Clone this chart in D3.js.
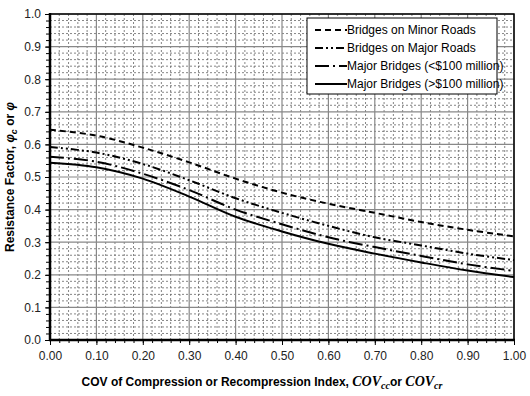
<!DOCTYPE html>
<html>
<head>
<meta charset="utf-8">
<script src="https://cdn.jsdelivr.net/npm/d3@7"></script>
<style>
  body { margin: 0; background: #fff; }
  text { font-family: "Liberation Sans", Arial, sans-serif; }
</style>
</head>
<body>
<div id="chart"></div>
<script>
const xValues = [0, 0.1, 0.2, 0.3, 0.4, 0.5, 0.6, 0.7, 0.8, 0.9, 1.0];
const minorRoads = [0.645, 0.627, 0.590, 0.545, 0.495, 0.452, 0.418, 0.390, 0.362, 0.338, 0.318];
const majorRoads = [0.592, 0.575, 0.540, 0.490, 0.435, 0.390, 0.350, 0.315, 0.290, 0.265, 0.245];
const majorLow   = [0.562, 0.547, 0.510, 0.460, 0.400, 0.355, 0.315, 0.285, 0.258, 0.232, 0.212];
const majorHigh  = [0.544, 0.530, 0.495, 0.440, 0.378, 0.333, 0.295, 0.265, 0.238, 0.213, 0.193];

const seriesLabels = [
  "Bridges on Minor Roads",
  "Bridges on Major Roads",
  "Major Bridges (<$100 million)",
  "Major Bridges (>$100 million)"
];
const xTickLabels = ["0.00","0.10","0.20","0.30","0.40","0.50","0.60","0.70","0.80","0.90","1.00"];
const yTickLabels = ["0.0","0.1","0.2","0.3","0.4","0.5","0.6","0.7","0.8","0.9","1.0"];

const width = 530;
const height = 396;
const margin = { left: 50, right: 16, top: 14, bottom: 56 };

const svg = d3.select("#chart")
  .append("svg")
  .attr("width", width)
  .attr("height", height);

const x = d3.scaleLinear().domain([0, 1]).range([margin.left, width - margin.right]);
const y = d3.scaleLinear().domain([0, 1]).range([height - margin.bottom, margin.top]);

const minorSteps = d3.range(0, 51).map(i => i * 0.02);
const majorSteps = d3.range(0, 11).map(i => i / 10);

// dashed minor grid
const grid = svg.append("g");
grid.selectAll("line.vminor")
  .data(minorSteps.filter((d, i) => i % 5 !== 0))
  .enter().append("line")
  .attr("x1", d => x(d)).attr("x2", d => x(d))
  .attr("y1", y(0)).attr("y2", y(1))
  .attr("stroke", "#666").attr("stroke-width", 0.8)
  .attr("stroke-dasharray", "2,2");
grid.selectAll("line.hminor")
  .data(minorSteps.filter((d, i) => i % 5 !== 0))
  .enter().append("line")
  .attr("y1", d => y(d)).attr("y2", d => y(d))
  .attr("x1", x(0)).attr("x2", x(1))
  .attr("stroke", "#666").attr("stroke-width", 0.8)
  .attr("stroke-dasharray", "2,2");

// solid major grid
grid.selectAll("line.vmajor")
  .data(majorSteps)
  .enter().append("line")
  .attr("x1", d => x(d)).attr("x2", d => x(d))
  .attr("y1", y(0)).attr("y2", y(1))
  .attr("stroke", "#888").attr("stroke-width", 1.2);
grid.selectAll("line.hmajor")
  .data(majorSteps)
  .enter().append("line")
  .attr("y1", d => y(d)).attr("y2", d => y(d))
  .attr("x1", x(0)).attr("x2", x(1))
  .attr("stroke", "#888").attr("stroke-width", 1.2);

// axes
const xAxis = d3.axisBottom(x)
  .tickValues(majorSteps)
  .tickFormat((d, i) => xTickLabels[i])
  .tickSize(5).tickPadding(6);
const xMinorAxis = d3.axisBottom(x).tickValues(minorSteps).tickFormat("").tickSize(3);
const yAxis = d3.axisLeft(y)
  .tickValues(majorSteps)
  .tickFormat((d, i) => yTickLabels[i])
  .tickSize(5).tickPadding(4);
const yMinorAxis = d3.axisLeft(y).tickValues(minorSteps).tickFormat("").tickSize(4);

function styleAxis(g) {
  g.select(".domain").remove();
  g.selectAll(".tick line").attr("stroke", "#000").attr("stroke-width", 1);
  g.selectAll(".tick text")
    .attr("fill", "#222")
    .style("font-size", "12px")
    .style("font-family", "'Liberation Sans', Arial, sans-serif");
}

svg.append("g").attr("transform", `translate(0,${y(0)})`).call(xMinorAxis).call(styleAxis);
svg.append("g").attr("transform", `translate(0,${y(0)})`).call(xAxis).call(styleAxis);
svg.append("g").attr("transform", `translate(${x(0)},0)`).call(yMinorAxis).call(styleAxis);
svg.append("g").attr("transform", `translate(${x(0)},0)`).call(yAxis).call(styleAxis);

// frame
svg.append("rect")
  .attr("x", x(0)).attr("y", y(1))
  .attr("width", x(1) - x(0)).attr("height", y(0) - y(1))
  .attr("fill", "none").attr("stroke", "#000").attr("stroke-width", 1.5);
svg.append("line")
  .attr("x1", x(0)).attr("x2", x(0)).attr("y1", y(1) - 1).attr("y2", y(0) + 1)
  .attr("stroke", "#000").attr("stroke-width", 2.5);
svg.append("line")
  .attr("x1", x(0) - 1).attr("x2", x(1) + 1).attr("y1", y(0)).attr("y2", y(0))
  .attr("stroke", "#000").attr("stroke-width", 2.5);

// curves
const series = [
  { name: seriesLabels[0], values: minorRoads, dash: "6,4" },
  { name: seriesLabels[1], values: majorRoads, dash: "8,3,2,3,2,3" },
  { name: seriesLabels[2], values: majorLow, dash: "14,4,2,4" },
  { name: seriesLabels[3], values: majorHigh, dash: null }
];

const line = d3.line()
  .x((d, i) => x(xValues[i]))
  .y(d => y(d))
  .curve(d3.curveCatmullRom.alpha(0.5));

svg.append("g").selectAll("path.curve")
  .data(series)
  .enter().append("path")
  .attr("class", "curve")
  .attr("d", d => line(d.values))
  .attr("fill", "none")
  .attr("stroke", "#000")
  .attr("stroke-width", 2)
  .attr("stroke-dasharray", d => d.dash);

// legend
const legend = svg.append("g").attr("transform", "translate(307,18)");
legend.append("rect")
  .attr("width", 190).attr("height", 76)
  .attr("fill", "#fff").attr("stroke", "#000").attr("stroke-width", 1);
series.forEach((s, i) => {
  const g = legend.append("g").attr("transform", `translate(0,${12 + i * 18})`);
  g.append("line")
    .attr("x1", 8).attr("x2", 40).attr("y1", 0).attr("y2", 0)
    .attr("stroke", "#000").attr("stroke-width", 2)
    .attr("stroke-dasharray", s.dash);
  g.append("text")
    .attr("x", 40).attr("y", 4)
    .style("font-size", "12px")
    .attr("fill", "#000")
    .text(s.name);
});

// axis titles
const yTitle = svg.append("text")
  .attr("transform", `translate(14,${(y(0) + y(1)) / 2}) rotate(-90)`)
  .attr("text-anchor", "middle")
  .style("font-size", "12px")
  .style("font-weight", "bold");
yTitle.append("tspan").text("Resistance Factor, ");
yTitle.append("tspan").style("font-style", "italic").text("φ");
yTitle.append("tspan").attr("dy", 3).style("font-size", "9px").style("font-style", "italic").text("c");
yTitle.append("tspan").attr("dy", -3).text(" or ");
yTitle.append("tspan").style("font-style", "italic").text("φ");

const xTitle = svg.append("text")
  .attr("x", (x(0) + x(1)) / 2 - 20)
  .attr("y", 386)
  .attr("text-anchor", "middle")
  .style("font-size", "12px")
  .style("font-weight", "bold");
xTitle.append("tspan").text("COV of Compression or Recompression Index, ");
xTitle.append("tspan").style("font-family", "'Liberation Serif', 'Times New Roman', serif")
  .style("font-style", "italic").style("font-size", "14px").text("COV");
xTitle.append("tspan").attr("dy", 3).style("font-family", "'Liberation Serif', serif")
  .style("font-style", "italic").style("font-size", "10px").text("cc");
xTitle.append("tspan").attr("dy", -3).text("or ");
xTitle.append("tspan").style("font-family", "'Liberation Serif', 'Times New Roman', serif")
  .style("font-style", "italic").style("font-size", "14px").text("COV");
xTitle.append("tspan").attr("dy", 3).style("font-family", "'Liberation Serif', serif")
  .style("font-style", "italic").style("font-size", "10px").text("cr");
</script>
</body>
</html>
